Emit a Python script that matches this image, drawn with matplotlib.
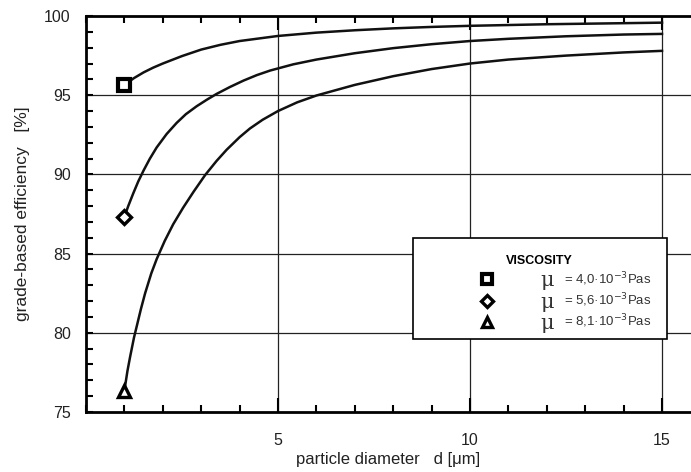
import matplotlib
matplotlib.use("Agg")
import matplotlib.pyplot as plt
from matplotlib.patches import Rectangle
from matplotlib.ticker import MultipleLocator, FixedLocator

plt.rcParams['font.family'] = ['Liberation Sans', 'DejaVu Sans']

# (particle diameter in um, efficiency in %)
d_40 = [1, 1.25, 1.5, 1.75, 2, 2.5, 3, 3.5, 4, 5, 6, 7, 8, 9, 10, 12, 15]
eta_40 = [95.65, 96.08, 96.44, 96.74, 97.0, 97.47, 97.88, 98.18, 98.42, 98.74, 98.95, 99.1, 99.22,
          99.31, 99.38, 99.48, 99.58]

d_56 = [1, 1.1, 1.23, 1.36, 1.5, 1.66, 1.84, 2.1, 2.36, 2.6, 2.88, 3.15, 3.4, 3.75, 4.1, 4.45,
        4.8, 5.4, 6, 7, 8, 9, 10, 11, 12.5, 14, 15]
eta_56 = [87.33, 88.0, 88.8, 89.55, 90.25, 90.98, 91.7, 92.55, 93.25, 93.8, 94.3, 94.72, 95.08,
          95.52, 95.92, 96.27, 96.56, 96.95, 97.25, 97.65, 97.97, 98.22, 98.42, 98.56, 98.72,
          98.83, 98.87]

d_81 = [1, 1.08, 1.15, 1.25, 1.32, 1.43, 1.54, 1.7, 1.84, 2.05, 2.27, 2.53, 2.8, 3.1, 3.4, 3.66,
        4.0, 4.27, 4.6, 5, 5.5, 6, 7, 8, 9, 10, 11, 12.5, 14, 15]
eta_81 = [76.35, 77.6, 78.5, 79.7, 80.4, 81.5, 82.5, 83.75, 84.65, 85.8, 86.85, 87.9, 88.9, 89.95,
          90.85, 91.55, 92.35, 92.9, 93.45, 94.0, 94.55, 94.98, 95.65, 96.2, 96.65, 97.0, 97.25,
          97.5, 97.7, 97.8]

labels = ['4,0', '5,6', '8,1']
markers = ['s', 'D', '^']
series = [(d_40, eta_40), (d_56, eta_56), (d_81, eta_81)]

fig = plt.figure(figsize=(6.91, 4.72), dpi=100)
ax = fig.add_axes([86/691, 1 - 412/472, 605/691, 396/472])

# grid first so the curves sit on top
for y in [80, 85, 90, 95]:
    ax.axhline(y, color='#222222', lw=0.9, zorder=1)
for x in [5, 10, 15]:
    ax.axvline(x, color='#222222', lw=0.9, zorder=1)

msize = {'s': 8.5, 'D': 7, '^': 8}
medge = {'s': 3.0, 'D': 2.4, '^': 2.4}
for (d, eta), m in zip(series, markers):
    ax.plot(d, eta, color='#111111', lw=1.8, zorder=3, solid_joinstyle='round')
    ax.plot(d[0], eta[0], marker=m, ms=msize[m], mfc='white', mec='black', mew=medge[m],
            ls='none', zorder=4, clip_on=False)

ax.set_xlim(0, 605/38.4)
ax.set_ylim(75, 100)

ax.xaxis.set_major_locator(FixedLocator([5, 10, 15]))
ax.xaxis.set_minor_locator(MultipleLocator(1))
ax.yaxis.set_major_locator(MultipleLocator(5))
ax.yaxis.set_minor_locator(MultipleLocator(1))
ax.tick_params(which='both', direction='in', top=True, right=False, width=1.5, color='black')
ax.tick_params(which='major', length=10, labelsize=11.5, labelcolor='#222222')
ax.tick_params(which='minor', length=5)
ax.tick_params(axis='y', which='major', length=5, pad=11)
ax.tick_params(axis='x', which='major', pad=15)

for s in ['left', 'bottom', 'top']:
    ax.spines[s].set_linewidth(2)
ax.spines['right'].set_visible(False)

ax.set_xlabel('particle diameter   d [\u03bcm]', fontsize=12, labelpad=3, color='#222222')
ax.set_ylabel('grade-based efficiency   [%]', fontsize=12.5, labelpad=10, color='#222222')

# legend box drawn by hand to match the layout
bx0, bx1 = (413 - 86) / 605, (667 - 86) / 605
by0, by1 = (412 - 339) / 396, (412 - 238) / 396
ax.add_patch(Rectangle((bx0, by0), bx1 - bx0, by1 - by0, transform=ax.transAxes,
                       facecolor='white', edgecolor='black', lw=1.2, zorder=5))
ax.text((539 - 86) / 605, (412 - 261) / 396, 'VISCOSITY', transform=ax.transAxes,
        ha='center', va='center', fontsize=9, fontweight='bold', zorder=6)
rows = [(412 - 279) / 396, (412 - 300.5) / 396, (412 - 321.5) / 396]
for lab, m, ry in zip(labels, markers, rows):
    ax.plot((487 - 86) / 605, ry, marker=m, ms=msize[m] - 1, mfc='white', mec='black',
            mew=medge[m], transform=ax.transAxes, zorder=6, clip_on=False)
    ax.text((547 - 86) / 605, ry - 0.005, '\u03bc', transform=ax.transAxes, ha='center', va='center',
            fontsize=15, family='DejaVu Serif', color='#333333', zorder=6)
    ax.text((564 - 86) / 605, ry, '= ' + lab + '\u00b710$^{-3}$Pas', transform=ax.transAxes,
            ha='left', va='center', fontsize=9.5, color='#333333', zorder=6)

fig.savefig('out.png', dpi=100)
